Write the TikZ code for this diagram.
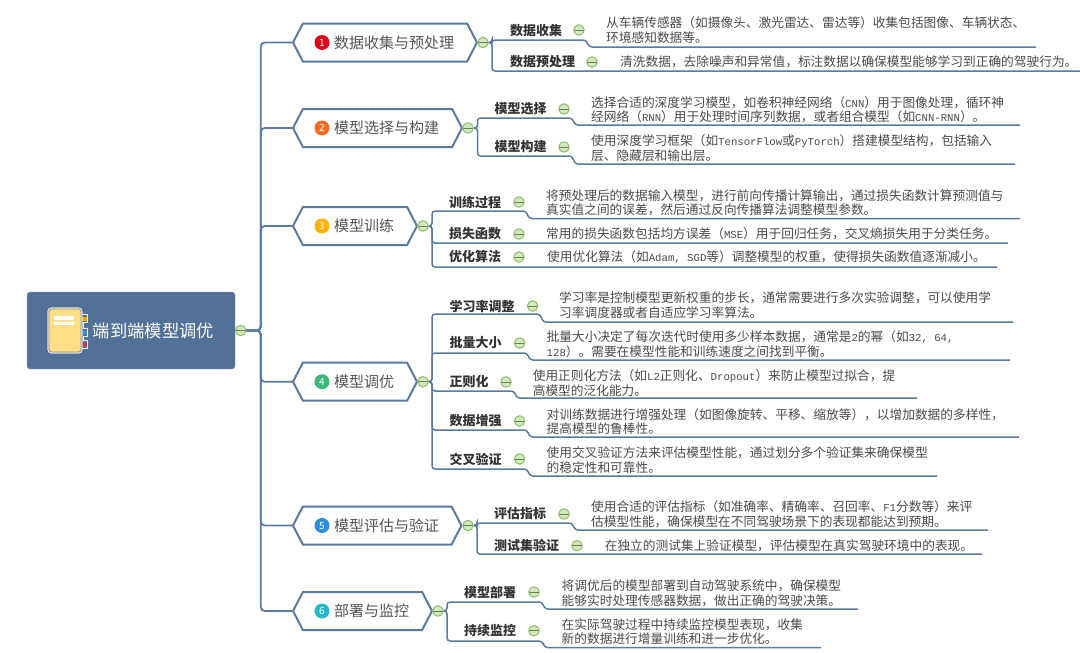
\documentclass[tikz,border=0pt]{standalone}
\usepackage{fontspec}
\setmainfont{Noto Sans CJK SC}
\newfontfamily\latinfont[Scale=0.84]{Liberation Mono}
\newcommand{\la}[1]{{\latinfont #1}}
\usetikzlibrary{arrows.meta, positioning, shapes.symbols}
\definecolor{linec}{HTML}{5A7A9E}
\definecolor{foldg}{HTML}{8CC063}
\definecolor{foldf}{HTML}{D5E6C4}
\definecolor{keyc}{HTML}{333333}
\definecolor{descc}{HTML}{4A4A4A}
\definecolor{topicc}{HTML}{555555}
\definecolor{rootc}{HTML}{527196}
\definecolor{notec}{HTML}{FFDF85}

\begin{document}
\begin{tikzpicture}[x=1pt, y=-1pt,
  root/.style={rectangle, fill=rootc, draw=rootc!70, rounded corners=3pt, inner sep=0pt,
               minimum width=208pt, minimum height=77pt},
  hexa/.style={signal, signal to=east and west, signal pointer angle=125, draw=linec,
               line width=2pt, fill=white, inner sep=0pt, minimum height=38pt},
  badge/.style={circle, inner sep=0pt, minimum size=15pt, text=white,
                font=\fontsize{10}{10}\selectfont},
  topic/.style={anchor=west, inner sep=0pt, text=topicc, font=\fontsize{15}{18}\selectfont},
  keyw/.style={anchor=west, inner sep=0pt, text=keyc, font=\fontsize{13}{15}\selectfont\bfseries},
  desc/.style={anchor=west, inner sep=0pt, align=left, text=descc,
               font=\fontsize{12.7}{14.5}\selectfont},
  fold/.style={circle, draw=foldg, fill=foldf, line width=1pt, inner sep=0pt, minimum size=10.5pt,
               path picture={\draw[foldg!70!black, line width=0.9pt]
                 (path picture bounding box.west) -- (path picture bounding box.east);}},
  trunk/.style={draw=linec, line width=1.8pt, rounded corners=4pt},
  link/.style={draw=linec, line width=1.5pt, rounded corners=3pt}
]
\useasboundingbox (0,0) rectangle (1080,653);

% root
\node[root] (root) at (131,330.5) {};
\node[inner sep=0pt, anchor=west, text=white, font=\fontsize{17.3}{20}\selectfont] (rootl) at (92.7,330.7) {端到端模型调优};
\fill[orange!70!yellow] (80,317) rectangle (86.5,320.5);
\fill[cyan!70!teal] (80,330.5) rectangle (86.5,334);
\fill[red!70!gray] (80,342.5) rectangle (86.5,346);
\draw[white!85!gray, line width=0.9pt] (81,314) -- (87.5,314) -- (87.5,322.5) -- (83,322.5) -- (83,328.5) -- (87.5,328.5)
  -- (87.5,336) -- (83,336) -- (83,340.5) -- (87.5,340.5) -- (87.5,348) -- (81,348);
\draw[white!80!gray, line width=2.2pt, rounded corners=3pt] (48.5,308.5) rectangle (81.5,352.5);
\draw[gray!90, fill=notec, line width=0.8pt, rounded corners=2.5pt] (49,309) rectangle (81,352);
\fill[white] (54,316) rectangle (74,320);
\fill[white] (54,321.5) rectangle (74,325);
\node[fold] (rf) at (240.7,330.5) {};

% topics
\node[hexa, minimum width=184pt] (h1) at (385,42.5) {};
\node[hexa, minimum width=169pt] (h2) at (377.5,128) {};
\node[hexa, minimum width=124pt] (h3) at (355,226) {};
\node[hexa, minimum width=124pt] (h4) at (355,381.7) {};
\node[hexa, minimum width=168.5pt] (h5) at (377.2,525.5) {};
\node[hexa, minimum width=139pt] (h6) at (362.5,611) {};
\foreach \i/\lab/\y/\c in {1/数据收集与预处理/42.5/E2001A, 2/模型选择与构建/128/F36C21, 3/模型训练/226/FFB000,
    4/模型调优/381.7/3DB97A, 5/模型评估与验证/525.5/2B8FDB, 6/部署与监控/611/25B8CC} {
  \definecolor{badgec}{HTML}{\c}
  \node[badge, fill=badgec] (n\i) at (322,\y) {\i};
  \node[topic] (l\i) at (334,\y) {\lab};
}
\node[fold] (f1) at (483,42.5) {};
\node[fold] (f2) at (468,128) {};
\node[fold] (f3) at (423,226) {};
\node[fold] (f4) at (423,381.7) {};
\node[fold] (f5) at (468,525.5) {};
\node[fold] (f6) at (438,611) {};
\foreach \i in {1,...,6} {
  \draw[trunk] (rf.east) -- (260.7,330.5) |- (h\i.west);
}

% group 1
\node[keyw] (k11) at (510,31) {数据收集};
\node[fold] (f11) at (579,30) {};
\node[desc] (d11) at (606,30) {从车辆传感器（如摄像头、激光雷达、雷达等）收集包括图像、车辆状态、\\环境感知数据等。};
\coordinate (e11) at (1036,47);
\draw[link] (f1.east) -- (492,42.5) |- (586,40) -- (589,47) -- (e11);
\node[keyw] (k12) at (510,62) {数据预处理};
\node[fold] (f12) at (592,62) {};
\node[desc] (d12) at (620,62) {清洗数据，去除噪声和异常值，标注数据以确保模型能够学习到正确的驾驶行为。};
\coordinate (e12) at (1080,71);
\draw[link] (f1.east) -- (492,42.5) |- (e12);

% group 2
\node[keyw] (k21) at (494.5,109) {模型选择};
\node[fold] (f21) at (564,109) {};
\node[desc] (d21) at (591,109.5) {选择合适的深度学习模型，如卷积神经网络（\la{CNN}）用于图像处理，循环神\\经网络（\la{RNN}）用于处理时间序列数据，或者组合模型（如\la{CNN-RNN}）。};
\coordinate (e21) at (1020,125);
\draw[link] (f2.east) -- (477.5,128) |- (572,118) -- (575,125) -- (e21);
\node[keyw] (k22) at (494.5,147) {模型构建};
\node[fold] (f22) at (564,147) {};
\node[desc] (d22) at (591,148) {使用深度学习框架（如\la{TensorFlow}或\la{PyTorch}）搭建模型结构，包括输入\\层、隐藏层和输出层。};
\coordinate (e22) at (1015,164);
\draw[link] (f2.east) -- (477.5,128) |- (572,156) -- (575,164) -- (e22);

% group 3
\node[keyw] (k31) at (449,202) {训练过程};
\node[fold] (f31) at (519,202) {};
\node[desc] (d31) at (546,203) {将预处理后的数据输入模型，进行前向传播计算输出，通过损失函数计算预测值与\\真实值之间的误差，然后通过反向传播算法调整模型参数。};
\coordinate (e31) at (1020,218.5);
\draw[link] (f3.east) -- (432,226) |- (526,211) -- (529,218.5) -- (e31);
\node[keyw] (k32) at (449,234) {损失函数};
\node[fold] (f32) at (519,234) {};
\node[desc] (d32) at (546,234) {常用的损失函数包括均方误差（\la{MSE}）用于回归任务，交叉熵损失用于分类任务。};
\coordinate (e32) at (1008,243);
\draw[link] (f3.east) -- (432,226) |- (e32);
\node[keyw] (k33) at (449,257) {优化算法};
\node[fold] (f33) at (519,257) {};
\node[desc] (d33) at (547,257) {使用优化算法（如\la{Adam, SGD}等）调整模型的权重，使得损失函数值逐渐减小。};
\coordinate (e33) at (997,267);
\draw[link] (f3.east) -- (432,226) |- (e33);

% group 4
\node[keyw] (k41) at (449.5,306) {学习率调整};
\node[fold] (f41) at (532.6,306) {};
\node[desc] (d41) at (559,305) {学习率是控制模型更新权重的步长，通常需要进行多次实验调整，可以使用学\\习率调度器或者自适应学习率算法。};
\coordinate (e41) at (1013,322);
\draw[link] (f4.east) -- (432,381.7) |- (540,314) -- (543,322) -- (e41);
\node[keyw] (k42) at (449.5,343) {批量大小};
\node[fold] (f42) at (519.6,343) {};
\node[desc] (d42) at (546.5,344) {批量大小决定了每次迭代时使用多少样本数据，通常是\la{2}的幂（如\la{32, 64,}\\\la{128}）。需要在模型性能和训练速度之间找到平衡。};
\coordinate (e42) at (1010,360);
\draw[link] (f4.east) -- (432,381.7) |- (527,353) -- (530,360) -- (e42);
\node[keyw] (k43) at (449.5,382) {正则化};
\node[fold] (f43) at (506,382) {};
\node[desc] (d43) at (532.6,383) {使用正则化方法（如\la{L2}正则化、\la{Dropout}）来防止模型过拟合，提\\高模型的泛化能力。};
\coordinate (e43) at (917,398);
\draw[link] (f4.east) -- (432,381.7) |- (514,391) -- (517,398) -- (e43);
\node[keyw] (k44) at (449.5,421) {数据增强};
\node[fold] (f44) at (519.6,421) {};
\node[desc] (d44) at (546.5,421.5) {对训练数据进行增强处理（如图像旋转、平移、缩放等），以增加数据的多样性，\\提高模型的鲁棒性。};
\coordinate (e44) at (1019,437);
\draw[link] (f4.east) -- (432,381.7) |- (527,430) -- (530,437) -- (e44);
\node[keyw] (k45) at (449.5,459) {交叉验证};
\node[fold] (f45) at (519.6,459) {};
\node[desc] (d45) at (546.5,460) {使用交叉验证方法来评估模型性能，通过划分多个验证集来确保模型\\的稳定性和可靠性。};
\coordinate (e45) at (937,476);
\draw[link] (f4.east) -- (432,381.7) |- (527,469) -- (530,476) -- (e45);

% group 5
\node[keyw] (k51) at (494,514) {评估指标};
\node[fold] (f51) at (564,514) {};
\node[desc] (d51) at (591,514) {使用合适的评估指标（如准确率、精确率、召回率、\la{F1}分数等）来评\\估模型性能，确保模型在不同驾驶场景下的表现都能达到预期。};
\coordinate (e51) at (988,530);
\draw[link] (f5.east) -- (477,525.5) |- (572,523) -- (575,530) -- (e51);
\node[keyw] (k52) at (494,545.7) {测试集验证};
\node[fold] (f52) at (577,545.7) {};
\node[desc] (d52) at (604.6,546) {在独立的测试集上验证模型，评估模型在真实驾驶环境中的表现。};
\coordinate (e52) at (982,554);
\draw[link] (f5.east) -- (477,525.5) |- (e52);

% group 6
\node[keyw] (k61) at (464,592) {模型部署};
\node[fold] (f61) at (534,592) {};
\node[desc] (d61) at (561.5,593.5) {将调优后的模型部署到自动驾驶系统中，确保模型\\能够实时处理传感器数据，做出正确的驾驶决策。};
\coordinate (e61) at (858,609);
\draw[link] (f6.east) -- (447,611) |- (542,602) -- (545,609) -- (e61);
\node[keyw] (k62) at (464,630.7) {持续监控};
\node[fold] (f62) at (534,630.7) {};
\node[desc] (d62) at (561.5,631.5) {在实际驾驶过程中持续监控模型表现，收集\\新的数据进行增量训练和进一步优化。};
\coordinate (e62) at (821,647.7);
\draw[link] (f6.east) -- (447,611) |- (542,641) -- (545,647.7) -- (e62);
\end{tikzpicture}
\end{document}
